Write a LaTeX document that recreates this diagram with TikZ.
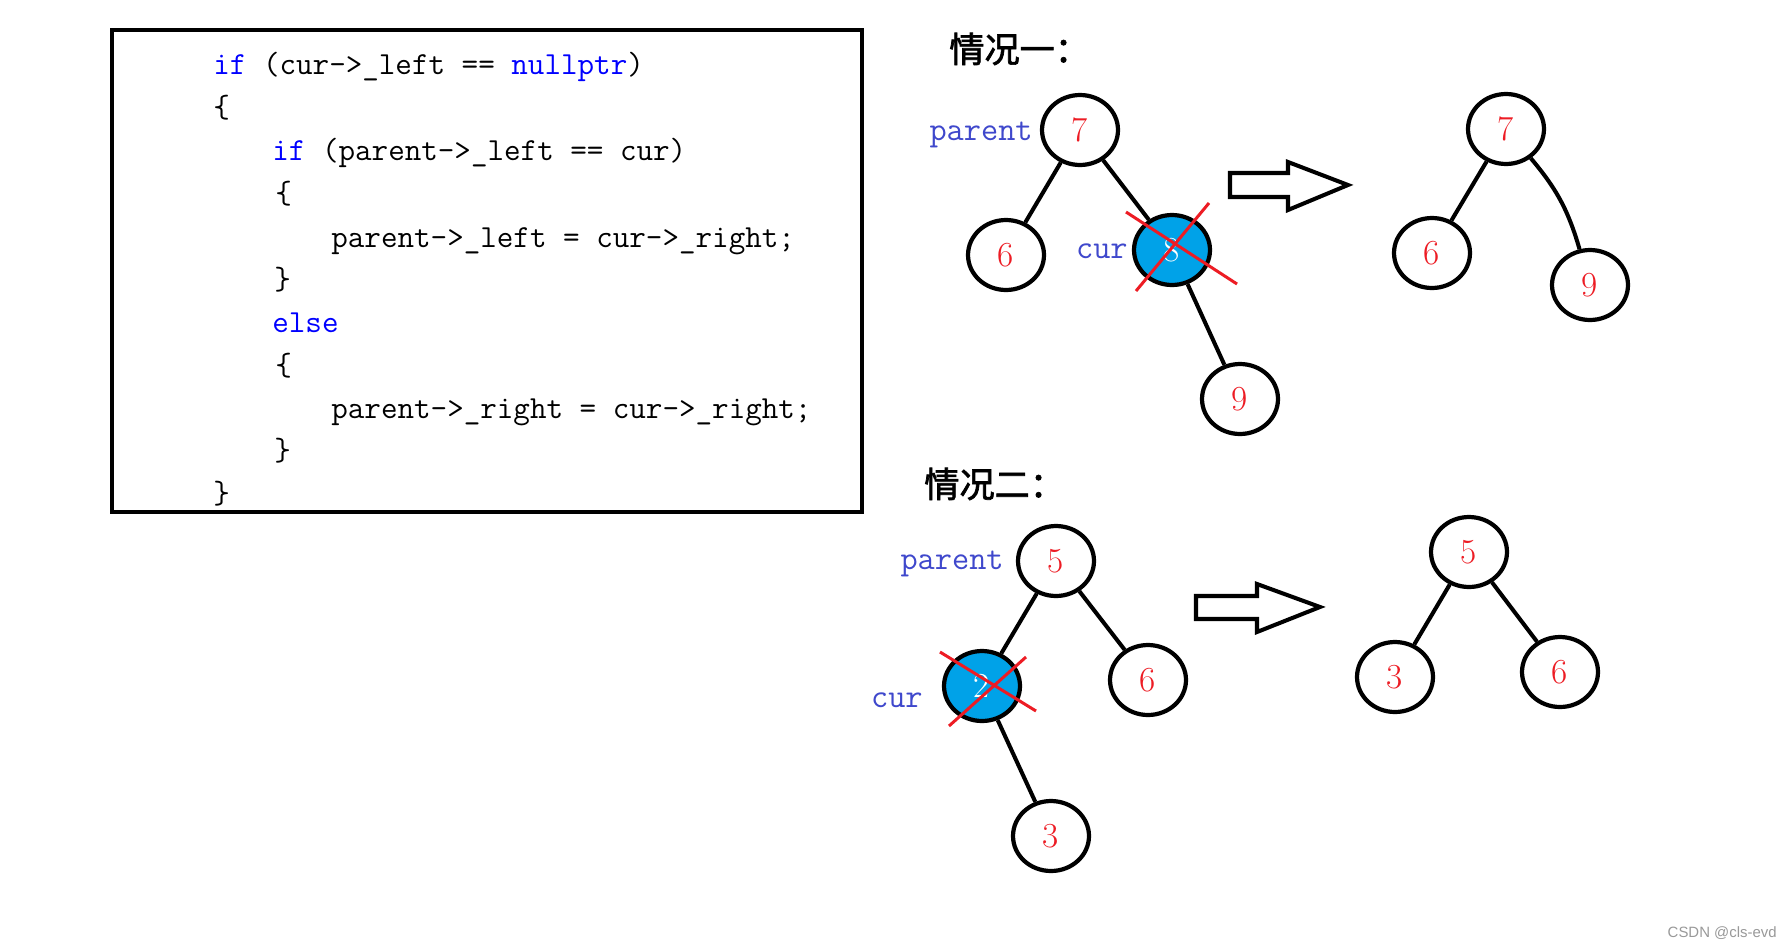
\documentclass[tikz,border=0pt]{standalone}
\usepackage{fontspec}
\usepackage{xcolor}
\usetikzlibrary{shapes.geometric}
\newfontfamily\cjkfont[FakeBold=2]{Noto Sans CJK SC}
\setsansfont{Liberation Sans}
\definecolor{code-blue}{HTML}{0000FF}
\definecolor{label-blue}{HTML}{3F48CC}
\definecolor{mark-red}{HTML}{ED1C24}
\definecolor{cur-fill}{HTML}{00A2E8}

\begin{document}
\begin{tikzpicture}[x=0.02cm, y=-0.02cm, every node/.style={inner sep=0pt},
    codeline/.style={anchor=west, font=\ttfamily\fontsize{18.3}{20}\selectfont, text height=0.75em, text depth=0.25em},
    tnode/.style={ellipse, draw, line width=2.4pt, fill=white, minimum width=1.52cm, minimum height=1.4cm, text=mark-red, font=\fontsize{20}{20}\selectfont},
    curnode/.style={tnode, fill=cur-fill, text=white},
    link/.style={line width=2.3pt},
    ptrlabel/.style={anchor=base east, text=label-blue, font=\ttfamily\fontsize{19}{20}\selectfont},
    title/.style={anchor=west, font=\cjkfont\fontsize{20}{20}\selectfont},
    cross/.style={draw=mark-red, line width=1.7pt},
    bigarrow/.style={draw, line width=2.3pt, fill=white, line join=miter}]
      \fill[white] (0,0) rectangle (1792,950);
      \useasboundingbox (0,0) rectangle (1792,950);

      \draw[line width=2.3pt] (112,30) rectangle (862,512);
      \node[codeline] (code1) at (213,70) {\textcolor{code-blue}{if} (cur->\_left == \textcolor{code-blue}{nullptr})};
      \node[codeline] (code2) at (213,113) {\{};
      \node[codeline] (code3) at (272,156) {\textcolor{code-blue}{if} (parent->\_left == cur)};
      \node[codeline] (code4) at (275,199) {\{};
      \node[codeline] (code5) at (331,243) {parent->\_left = cur->\_right;};
      \node[codeline] (code6) at (274,285) {\}};
      \node[codeline] (code7) at (272,328) {\textcolor{code-blue}{else}};
      \node[codeline] (code8) at (275,371) {\{};
      \node[codeline] (code9) at (331,414) {parent->\_right = cur->\_right;};
      \node[codeline] (code10) at (274,456) {\}};
      \node[codeline] (code11) at (213,499) {\}};

      \node[title] (case1) at (949,49) {情况一：};
      \node[tnode] (a7) at (1080,130) {7};
      \node[tnode] (a6) at (1006,255) {6};
      \node[curnode] (a8) at (1172,250) {8};
      \node[tnode] (a9) at (1240,399) {9};
      \node[ptrlabel] (parent1) at (1033,140) {parent};
      \node[ptrlabel] (cur1) at (1128,258) {cur};
      \draw[link] (a7) -- (a6);
      \draw[link] (a7) -- (a8);
      \draw[link] (a8) -- (a9);
      \draw[cross] ([shift={(-46,-38)}]a8.center) -- ([shift={(65,34)}]a8.center);
      \draw[cross] ([shift={(37,-47)}]a8.center) -- ([shift={(-36,41)}]a8.center);
      \draw[bigarrow] (1230,173) -- (1288,173) -- (1288,162) -- (1348,185) -- (1288,210) -- (1288,197) -- (1230,197) -- cycle;
      \node[tnode] (b7) at (1506,129) {7};
      \node[tnode] (b6) at (1432,253) {6};
      \node[tnode] (b9) at (1590,285) {9};
      \draw[link] (b7) -- (b6);
      \draw[link] (b7) to[bend left=12] (b9);

      \node[title] (case2) at (924,484) {情况二：};
      \node[tnode] (c5) at (1056,561) {5};
      \node[curnode] (c2) at (982,686) {2};
      \node[tnode] (c6) at (1148,680) {6};
      \node[tnode] (c3) at (1051,836) {3};
      \node[ptrlabel] (parent2) at (1004,569) {parent};
      \node[ptrlabel] (cur2) at (923,707) {cur};
      \draw[link] (c5) -- (c2);
      \draw[link] (c5) -- (c6);
      \draw[link] (c2) -- (c3);
      \draw[cross] ([shift={(-42,-34)}]c2.center) -- ([shift={(54,25)}]c2.center);
      \draw[cross] ([shift={(44,-29)}]c2.center) -- ([shift={(-33,40)}]c2.center);
      \draw[bigarrow] (1196,596) -- (1257,596) -- (1257,584) -- (1320,607) -- (1257,632) -- (1257,619) -- (1196,619) -- cycle;
      \node[tnode] (d5) at (1469,552) {5};
      \node[tnode] (d3) at (1395,677) {3};
      \node[tnode] (d6) at (1560,672) {6};
      \draw[link] (d5) -- (d3);
      \draw[link] (d5) -- (d6);

      \node[anchor=east, text=gray!80, font=\sffamily\fontsize{8.5}{9}\selectfont] (mark) at (1777,933) {CSDN @cls-evd};
    \end{tikzpicture}
\end{document}
